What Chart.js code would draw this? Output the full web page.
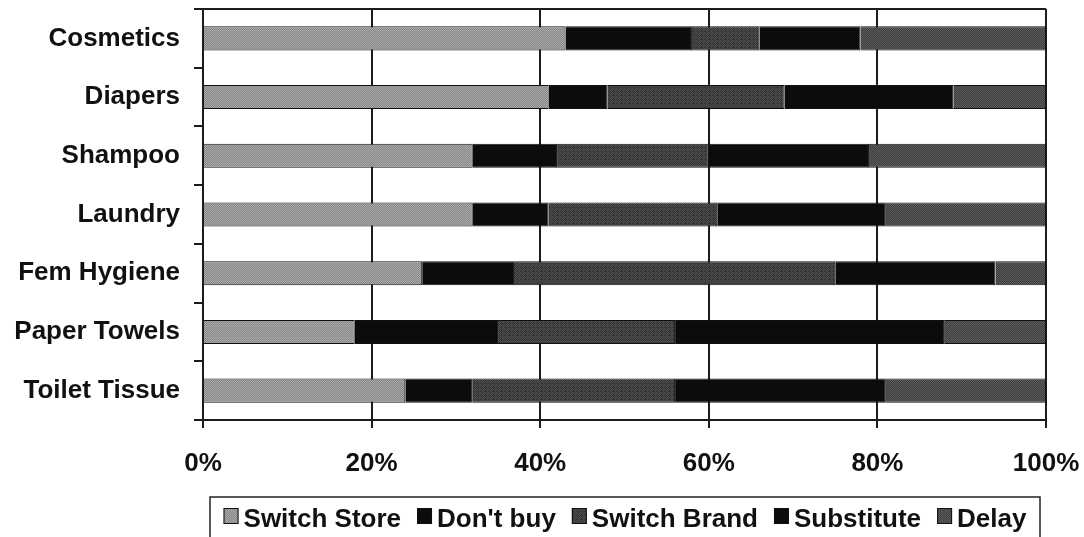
<!DOCTYPE html>
<html>
<head>
<meta charset="utf-8">
<script src="https://cdn.jsdelivr.net/npm/chart.js@4/dist/chart.umd.min.js"></script>
<style>
  html, body { margin: 0; padding: 0; background: #fff; }
  #wrap { width: 1084px; height: 537px; }
</style>
</head>
<body>
<div id="wrap"><canvas id="chart" width="1084" height="537"></canvas></div>
<script>
// share of shoppers (%) by reaction, per product category
var categories  = ['Cosmetics', 'Diapers', 'Shampoo', 'Laundry', 'Fem Hygiene', 'Paper Towels', 'Toilet Tissue'];
var switchStore = [43, 41, 32, 32, 26, 18, 24];
var dontBuy     = [15, 7, 10, 9, 11, 17, 8];
var switchBrand = [8, 21, 18, 20, 38, 21, 24];
var substitute  = [12, 20, 19, 20, 19, 32, 25];
var delay       = [22, 11, 21, 19, 6, 12, 19];
var seriesNames = ['Switch Store', "Don't buy", 'Switch Brand', 'Substitute', 'Delay'];
var xTicks      = [0, 20, 40, 60, 80, 100];

var FONT = '"Liberation Sans", Arial, sans-serif';
Chart.defaults.font.family = FONT;
Chart.defaults.color = '#111';

// ordered dither so the grey fills look grainy like a printed chart
var bayer = [0, 8, 2, 10, 12, 4, 14, 6, 3, 11, 1, 9, 15, 7, 13, 5];
function texture(lo, hi, share) {
    var tile = document.createElement('canvas');
    tile.width = 4;
    tile.height = 4;
    var c = tile.getContext('2d');
    for (var i = 0; i < 16; i++) {
        c.fillStyle = bayer[i] < share ? hi : lo;
        c.fillRect(i % 4, Math.floor(i / 4), 1, 1);
    }
    return c.createPattern(tile, 'repeat');
}

var fills = [
    texture('#858585', '#ababab', 8),
    '#0c0c0c',
    texture('#333333', '#525252', 7),
    '#0c0c0c',
    texture('#3c3c3c', '#5e5e5e', 8)
];
var values = [switchStore, dontBuy, switchBrand, substitute, delay];

// top edge of the plot frame
var plotFrame = {
    id: 'plotFrame',
    beforeDatasetsDraw: function(chart) {
        var ctx = chart.ctx, a = chart.chartArea;
        ctx.save();
        ctx.strokeStyle = '#1c1c1c';
        ctx.lineWidth = 2;
        ctx.beginPath();
        ctx.moveTo(a.left, a.top);
        ctx.lineTo(a.right, a.top);
        ctx.stroke();
        ctx.restore();
    }
};

// boxed legend along the bottom
var legendBox = {
    id: 'legendBox',
    afterDraw: function(chart) {
        var ctx = chart.ctx;
        ctx.save();
        ctx.font = 'bold 26px ' + FONT;
        var sq = 15, gap = 5, space = 16;
        var items = chart.data.datasets.map(function(ds) {
            return { label: ds.label, fill: ds.backgroundColor, w: ctx.measureText(ds.label).width };
        });
        var total = items.reduce(function(s, it) { return s + sq + gap + it.w; }, 0) + space * (items.length - 1);
        var boxL = 210, boxR = 1040, boxT = 497;
        ctx.lineWidth = 1.5;
        ctx.strokeStyle = '#222';
        ctx.strokeRect(boxL, boxT, boxR - boxL, 60);
        var x = (boxL + boxR - total) / 2;
        ctx.textBaseline = 'alphabetic';
        ctx.textAlign = 'left';
        items.forEach(function(it) {
            ctx.fillStyle = it.fill;
            ctx.fillRect(x, 508, sq, 16);
            ctx.lineWidth = 1;
            ctx.strokeStyle = '#111';
            ctx.strokeRect(x + 0.5, 508.5, sq - 1, 15);
            ctx.fillStyle = '#111';
            ctx.fillText(it.label, x + sq + gap, 527);
            x += sq + gap + it.w + space;
        });
        ctx.restore();
    }
};

new Chart(document.getElementById('chart'), {
    type: 'bar',
    data: {
        labels: categories,
        datasets: seriesNames.map(function(name, i) {
            return {
                label: name,
                data: values[i],
                backgroundColor: fills[i],
                borderColor: '#111',
                borderWidth: 1,
                categoryPercentage: 1,
                barPercentage: 0.41
            };
        })
    },
    options: {
        indexAxis: 'y',
        responsive: false,
        animation: false,
        layout: { padding: { top: 9, right: 38, bottom: 57, left: 0 } },
        plugins: {
            legend: { display: false },
            tooltip: { enabled: false }
        },
        scales: {
            x: {
                stacked: true,
                min: 0,
                max: 100,
                afterBuildTicks: function(axis) {
                    axis.ticks = xTicks.map(function(v) { return { value: v }; });
                },
                afterFit: function(scale) {
                    scale.height = 60;
                    scale.paddingLeft = 0;
                    scale.paddingRight = 0;
                },
                grid: { color: '#1c1c1c', lineWidth: 2, drawTicks: true, tickLength: 8 },
                border: { display: true, color: '#1c1c1c', width: 2 },
                ticks: {
                    padding: 20,
                    font: { size: 26, weight: 'bold' },
                    color: '#111',
                    callback: function(v) { return v + '%'; }
                }
            },
            y: {
                stacked: true,
                afterFit: function(scale) {
                    scale.width = 203;
                    scale.paddingTop = 0;
                    scale.paddingBottom = 0;
                },
                grid: { offset: true, drawOnChartArea: false, drawTicks: true, tickLength: 9, color: '#1c1c1c', lineWidth: 2 },
                border: { display: true, color: '#1c1c1c', width: 2 },
                ticks: {
                    padding: 14,
                    font: { size: 26, weight: 'bold' },
                    color: '#111'
                }
            }
        }
    },
    plugins: [plotFrame, legendBox]
});
</script>
</body>
</html>
